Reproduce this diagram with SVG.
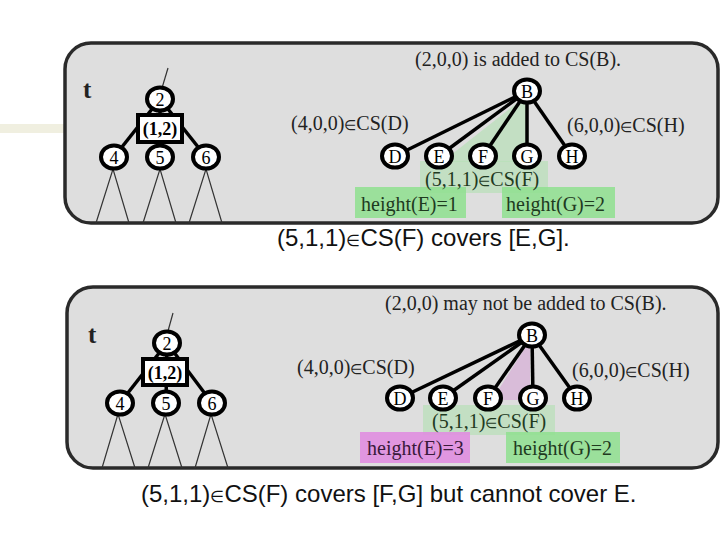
<svg xmlns="http://www.w3.org/2000/svg" width="720" height="540" viewBox="0 0 720 540">
<style>
.panel{fill:#dedede;stroke:#2a2a2a;stroke-width:3.5}
.nd{fill:#fff;stroke:#000;stroke-width:4}
.ed{stroke:#000;stroke-width:3.5;fill:none}
.thin{stroke:#333;stroke-width:1.2;fill:none}
.lbl{font-family:"Liberation Serif",serif;font-size:20px;fill:#222}
.gt{fill:#1f3a1f}
.pt{fill:#3a1a3a}
.el{font-size:14px}
.nl{font-family:"Liberation Serif",serif;font-size:18px;fill:#000;text-anchor:middle}
.bx{font-family:"Liberation Serif",serif;font-size:18px;font-weight:bold;fill:#000;text-anchor:middle}
.tt{font-family:"Liberation Serif",serif;font-size:25px;font-weight:bold;fill:#222}
.sans{font-family:"Liberation Sans",Arial,sans-serif;font-size:24px;fill:#111}
.gb{fill:#8fe08f;opacity:0.85}
.gl{fill:#b8e0b8;opacity:0.7}
.pb{fill:#e08ee0;opacity:0.9}
.pl{fill:#d8b8d8;opacity:0.9}
</style>
<rect x="0" y="124" width="260" height="9" fill="#e6e4cc" opacity="0.6"/>
<g id="panel1">
<rect class="panel" x="65" y="43" width="653" height="180" rx="26"/>
<polygon class="gl" points="527,95 442,162 530,162"/>
<rect class="gl" x="420" y="161" width="128" height="32"/>
<rect class="gb" x="355" y="187" width="111" height="31"/>
<rect class="gb" x="502" y="187" width="113" height="31"/>
</g>
<g id="panel2">
<rect class="panel" x="67" y="287" width="651" height="181" rx="26"/>
<polygon class="pl" points="530,340 492,400 530,400"/>
<rect class="gl" x="423" y="405" width="132" height="30"/>
<rect class="pb" x="360" y="432" width="110" height="31"/>
<rect class="gb" x="506" y="432" width="114" height="31"/>
</g>
<g id="connectors">
<line class="thin" x1="168" y1="68" x2="162" y2="88"/>
<line class="ed" x1="160" y1="99" x2="114" y2="157"/>
<line class="ed" x1="160" y1="99" x2="160" y2="157"/>
<line class="ed" x1="160" y1="99" x2="206" y2="157"/>
<polyline class="thin" points="96,223 113,169 129,223"/>
<polyline class="thin" points="143,223 160,169 176,223"/>
<polyline class="thin" points="189,223 206,169 222,223"/>
<line class="ed" x1="527" y1="91" x2="395" y2="156"/>
<line class="ed" x1="527" y1="91" x2="439" y2="156"/>
<line class="ed" x1="527" y1="91" x2="483" y2="156"/>
<line class="ed" x1="527" y1="91" x2="527" y2="156"/>
<line class="ed" x1="527" y1="91" x2="572" y2="156"/>
<line class="thin" x1="173" y1="313" x2="168" y2="331"/>
<line class="ed" x1="167" y1="343" x2="120" y2="403"/>
<line class="ed" x1="167" y1="343" x2="166" y2="403"/>
<line class="ed" x1="167" y1="343" x2="212" y2="403"/>
<polyline class="thin" points="102,468 118,414 135,468"/>
<polyline class="thin" points="148,468 165,414 182,468"/>
<polyline class="thin" points="195,468 211,414 228,468"/>
<line class="ed" x1="532" y1="335" x2="400" y2="398"/>
<line class="ed" x1="532" y1="335" x2="443" y2="398"/>
<line class="ed" x1="532" y1="335" x2="488" y2="398"/>
<line class="ed" x1="532" y1="335" x2="533" y2="398"/>
<line class="ed" x1="532" y1="335" x2="577" y2="398"/>
</g>
<g id="n1-t"><text class="tt" x="83" y="98">t</text></g>
<g id="n1-2"><ellipse class="nd" cx="160" cy="99" rx="13" ry="11.5"/><text class="nl" x="160" y="105.5">2</text></g>
<g id="n1-12"><rect class="nd" x="138" y="115" width="44" height="27"/><text class="bx" x="160" y="134.5">(1,2)</text></g>
<g id="n1-4"><ellipse class="nd" cx="114" cy="157" rx="13" ry="11.5"/><text class="nl" x="114" y="163.5">4</text></g>
<g id="n1-5"><ellipse class="nd" cx="160" cy="157" rx="13" ry="11.5"/><text class="nl" x="160" y="163.5">5</text></g>
<g id="n1-6"><ellipse class="nd" cx="206" cy="157" rx="13" ry="11.5"/><text class="nl" x="206" y="163.5">6</text></g>
<g id="n1-B"><ellipse class="nd" cx="527" cy="91" rx="13" ry="11.5"/><text class="nl" x="527" y="97.5">B</text></g>
<g id="n1-D"><ellipse class="nd" cx="395" cy="156" rx="13" ry="11.5"/><text class="nl" x="395" y="162.5">D</text></g>
<g id="n1-E"><ellipse class="nd" cx="439" cy="156" rx="13" ry="11.5"/><text class="nl" x="439" y="162.5">E</text></g>
<g id="n1-F"><ellipse class="nd" cx="483" cy="156" rx="13" ry="11.5"/><text class="nl" x="483" y="162.5">F</text></g>
<g id="n1-G"><ellipse class="nd" cx="527" cy="156" rx="13" ry="11.5"/><text class="nl" x="527" y="162.5">G</text></g>
<g id="n1-H"><ellipse class="nd" cx="572" cy="156" rx="13" ry="11.5"/><text class="nl" x="572" y="162.5">H</text></g>
<g id="labels1">
<text class="lbl" x="415" y="66">(2,0,0) is added to CS(B).</text>
<text class="lbl" x="291" y="130">(4,0,0)<tspan class="el">∈</tspan>CS(D)</text>
<text class="lbl" x="567" y="132">(6,0,0)<tspan class="el">∈</tspan>CS(H)</text>
<text class="lbl gt" x="425" y="186">(5,1,1)<tspan class="el">∈</tspan>CS(F)</text>
<text class="lbl gt" x="361" y="211">height(E)=1</text>
<text class="lbl gt" x="506" y="211">height(G)=2</text>
<text class="sans" x="277" y="246">(5,1,1)<tspan font-size="16">∈</tspan>CS(F) covers [E,G].</text>
</g>
<g id="n2-t"><text class="tt" x="88" y="343">t</text></g>
<g id="n2-2"><ellipse class="nd" cx="167" cy="343" rx="13" ry="11.5"/><text class="nl" x="167" y="349.5">2</text></g>
<g id="n2-12"><rect class="nd" x="143" y="359" width="44" height="26"/><text class="bx" x="165" y="378.5">(1,2)</text></g>
<g id="n2-4"><ellipse class="nd" cx="120" cy="403" rx="13" ry="11.5"/><text class="nl" x="120" y="409.5">4</text></g>
<g id="n2-5"><ellipse class="nd" cx="166" cy="403" rx="13" ry="11.5"/><text class="nl" x="166" y="409.5">5</text></g>
<g id="n2-6"><ellipse class="nd" cx="212" cy="403" rx="13" ry="11.5"/><text class="nl" x="212" y="409.5">6</text></g>
<g id="n2-B"><ellipse class="nd" cx="532" cy="335" rx="13" ry="11.5"/><text class="nl" x="532" y="341.5">B</text></g>
<g id="n2-D"><ellipse class="nd" cx="400" cy="398" rx="13" ry="11.5"/><text class="nl" x="400" y="404.5">D</text></g>
<g id="n2-E"><ellipse class="nd" cx="443" cy="398" rx="13" ry="11.5"/><text class="nl" x="443" y="404.5">E</text></g>
<g id="n2-F"><ellipse class="nd" cx="488" cy="398" rx="13" ry="11.5"/><text class="nl" x="488" y="404.5">F</text></g>
<g id="n2-G"><ellipse class="nd" cx="533" cy="398" rx="13" ry="11.5"/><text class="nl" x="533" y="404.5">G</text></g>
<g id="n2-H"><ellipse class="nd" cx="577" cy="398" rx="13" ry="11.5"/><text class="nl" x="577" y="404.5">H</text></g>
<g id="labels2">
<text class="lbl" x="385" y="310">(2,0,0) may not be added to CS(B).</text>
<text class="lbl" x="297" y="374">(4,0,0)<tspan class="el">∈</tspan>CS(D)</text>
<text class="lbl" x="572" y="377">(6,0,0)<tspan class="el">∈</tspan>CS(H)</text>
<text class="lbl gt" x="432" y="428">(5,1,1)<tspan class="el">∈</tspan>CS(F)</text>
<text class="lbl pt" x="367" y="455">height(E)=3</text>
<text class="lbl gt" x="513" y="455">height(G)=2</text>
<text class="sans" x="141" y="502">(5,1,1)<tspan font-size="16">∈</tspan>CS(F) covers [F,G] but cannot cover E.</text>
</g>
</svg>
